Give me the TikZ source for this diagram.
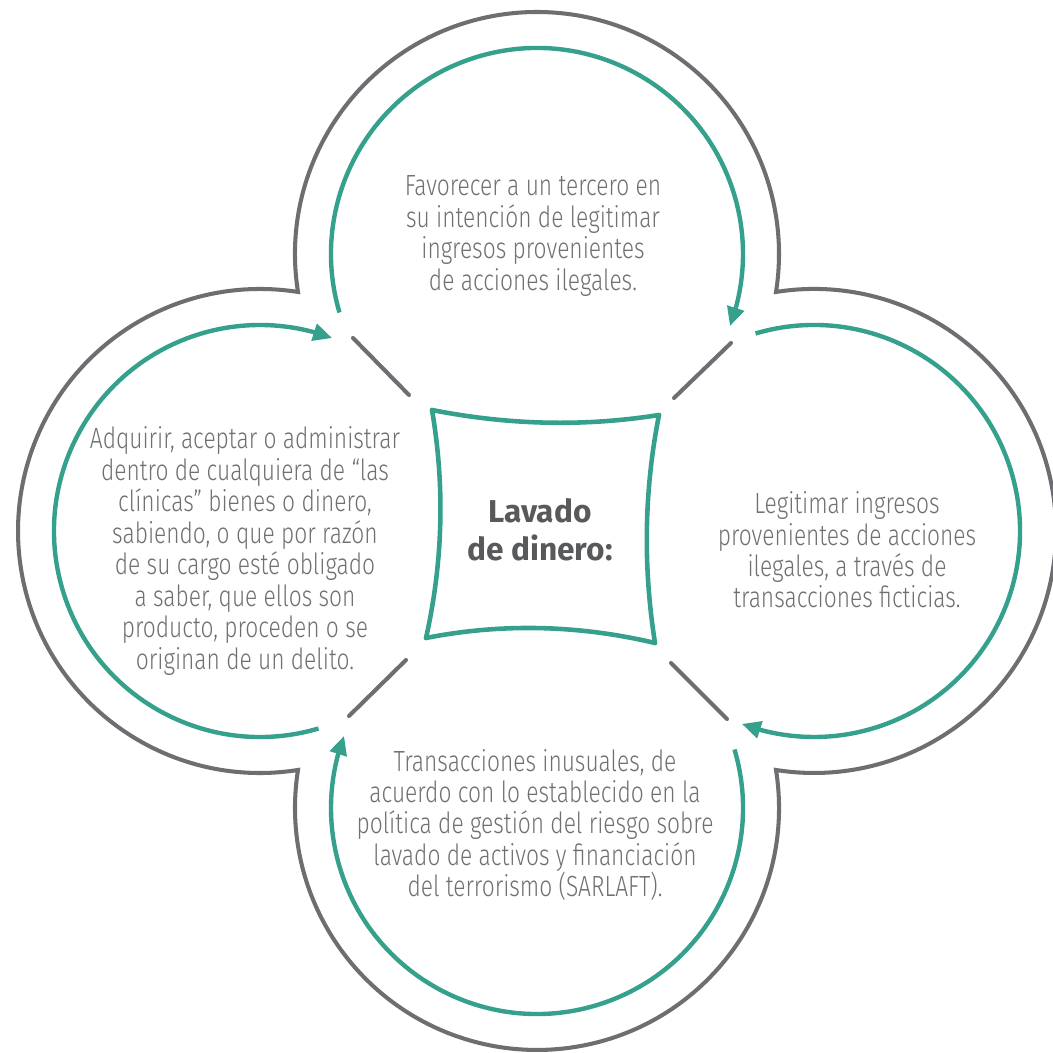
\documentclass[tikz,border=0pt]{standalone}
\usepackage{fontspec}
\setmainfont{Fira Sans}
\newfontfamily\ligera{Fira Sans Light}[FakeStretch=0.78]
\usetikzlibrary{arrows.meta,bending,calc}
\definecolor{verde}{HTML}{35A08C}
\definecolor{grisborde}{HTML}{6D6E71}
\definecolor{gristexto}{HTML}{707070}
\definecolor{gristitulo}{HTML}{58595B}

\begin{document}
\begin{tikzpicture}[x=0.02cm,y=0.02cm,
			contorno/.style={draw=grisborde,line width=2.3pt,line join=miter},
			flecha/.style={draw=verde,line width=2.5pt,-{Triangle[length=0.38cm,width=0.34cm]}},
			marco/.style={draw=verde,line width=2.6pt,line cap=round},
			diagonal/.style={draw=grisborde,line width=2.3pt,line cap=round},
			texto/.style={align=center,inner sep=0pt,text=gristexto,font=\ligera\fontsize{16.6}{17.9}\selectfont},
			titulo/.style={align=center,inner sep=0pt,text=gristitulo,font=\bfseries\fontsize{18}{21.6}\selectfont}
			]
			\path[fill=white] (-537,-522) rectangle (515,531);
			\useasboundingbox (-537,-522) rectangle (515,531);
			% centros de los cuatro circulos
			\coordinate (cSup) at (0,277);
			\coordinate (cDer) at (277,0);
			\coordinate (cInf) at (0,-277);
			\coordinate (cIzq) at (-277,0);
			% contorno gris
			\draw[contorno] ($(cSup)+(189.03:242)$)
				arc[start angle=189.03,end angle=-9.03,radius=242]
				arc[start angle=99.03,end angle=-99.03,radius=242]
				arc[start angle=9.03,end angle=-189.03,radius=242]
				arc[start angle=-80.97,end angle=-279.03,radius=242] -- cycle;
			% arcos verdes con flecha
			\foreach \c/\o in {cSup/90,cDer/0,cInf/-90,cIzq/180}
				\draw[flecha] ($(\c)+({\o+106.5}:206)$) arc[start angle=\o+106.5,end angle=\o-110.5,radius=206];
			% cuadro central
			\coordinate (qA) at (-105,121);
			\coordinate (qB) at (122,116);
			\coordinate (qC) at (118,-112);
			\coordinate (qD) at (-111,-107);
			\draw[marco] (qA) .. controls (-29,106) and (46,104) .. (qB);
			\draw[marco] (qB) .. controls (107,40) and (106,-36) .. (qC);
			\draw[marco] (qD) .. controls (-35,-92) and (42,-94) .. (qC);
			\draw[marco] (qA) .. controls (-92,45) and (-94,-31) .. (qD);
			% lineas diagonales
			\coordinate (d1a) at (-128,136); \coordinate (d1b) at (-184,193);
			\coordinate (d2a) at (137,133);  \coordinate (d2b) at (194,188);
			\coordinate (d3a) at (134,-132); \coordinate (d3b) at (190,-188);
			\coordinate (d4a) at (-131,-129); \coordinate (d4b) at (-188,-185);
			\foreach \i in {1,2,3,4}
				\draw[diagonal] (d\i a) -- (d\i b);
			% textos
			\node[titulo] (lavado) at (3,1) {Lavado\\de dinero:};
			\node[texto] (tSup) at (-4,295) {Favorecer a un tercero en\\su intención de legitimar\\ingresos provenientes\\de acciones ilegales.};
			\node[texto] (tDer) at (310,-19) {Legitimar ingresos\\provenientes de acciones\\ilegales, a través de\\transacciones ficticias.};
			\node[texto] (tInf) at (-2,-294) {Transacciones inusuales, de\\acuerdo con lo establecido en la\\política de gestión del riesgo sobre\\lavado de activos y financiación\\del terrorismo (SARLAFT).};
			\node[texto] (tIzq) at (-292,-20) {Adquirir, aceptar o administrar\\dentro de cualquiera de “las\\clínicas” bienes o dinero,\\sabiendo, o que por razón\\de su cargo esté obligado\\a saber, que ellos son\\producto, proceden o se\\originan de un delito.};
		\end{tikzpicture}
\end{document}
